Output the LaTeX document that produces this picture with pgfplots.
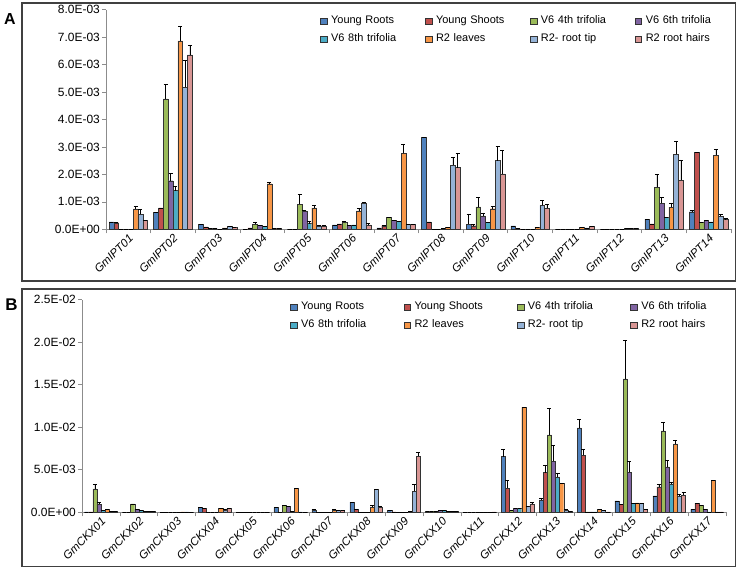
\documentclass[border=0pt]{standalone}
\usepackage{pgfplots}
\pgfplotsset{compat=1.18}
\usepackage{pgfplotstable}
\usepackage{fontspec}
\setmainfont{Liberation Sans}
\definecolor{cYR}{HTML}{4F81BD}
\definecolor{cYS}{HTML}{C0504D}
\definecolor{cVf}{HTML}{9BBB59}
\definecolor{cVs}{HTML}{8064A2}
\definecolor{cVe}{HTML}{4BACC6}
\definecolor{cRL}{HTML}{F79646}
\definecolor{cRT}{HTML}{95B3D7}
\definecolor{cRH}{HTML}{D99694}

% values in units of 1E-03
\pgfplotstableread{
x YR YRe YS YSe V4 V4e V6 V6e V8 V8e RL RLe RT RTe RH RHe
0 0.27 0 0.24 0 0.01 0 0.01 0 0.01 0 0.74 0.10 0.55 0.17 0.33 0
1 0.62 0 0.78 0 4.75 0.54 1.77 0.26 1.41 0.17 6.86 0.52 5.17 0.97 6.35 0.37
2 0.17 0.02 0.09 0 0.04 0 0.02 0 0.01 0 0.05 0 0.11 0 0.07 0
3 0.01 0 0.05 0 0.19 0.08 0.15 0 0.11 0 1.66 0.06 0.03 0 0.03 0
4 0.005 0 0.01 0 0.92 0.36 0.67 0.02 0.21 0.08 0.78 0.08 0.13 0 0.13 0
5 0.16 0 0.20 0 0.25 0.05 0.14 0 0.16 0 0.67 0.08 0.95 0.03 0.16 0.06
6 0.05 0 0.13 0 0.44 0 0.32 0 0.30 0 2.77 0.31 0.19 0 0.19 0
7 3.36 0 0.27 0 0 0 0 0 0.02 0 0.07 0 2.34 0.29 2.25 0.51
8 0.19 0.37 0.13 0.05 0.82 0.33 0.49 0.11 0.25 0 0.75 0.09 2.50 0.53 2.02 0.86
9 0.12 0 0.02 0 0.01 0 0 0 0 0 0.08 0 0.87 0.17 0.77 0.16
10 0.01 0 0 0 0 0 0 0 0 0 0.08 0 0.05 0 0.11 0
11 0 0 0 0 0 0 0 0 0 0 0.04 0 0.03 0 0.04 0
12 0.37 0 0.20 0 1.54 0.47 0.94 0.23 0.43 0 0.81 0.13 2.74 0.48 1.79 0.74
13 0.64 0.06 2.80 0 0.25 0 0.32 0 0.27 0 2.70 0.22 0.48 0.06 0.35 0.04
}\tabA

\pgfplotstableread{
x YR YRe YS YSe V4 V4e V6 V6e V8 V8e RL RLe RT RTe RH RHe
0 0.05 0 0.05 0 2.75 0.55 0.95 0.20 0.27 0 0.35 0 0.10 0 0.10 0
1 0.03 0 0.03 0 0.98 0 0.35 0 0.20 0 0.15 0 0.10 0 0.08 0
2 0.03 0 0.03 0 0.03 0 0.03 0 0.03 0 0.05 0 0.05 0 0.03 0
3 0.55 0 0.47 0 0.02 0 0.02 0 0.02 0 0.43 0 0.30 0 0.50 0
4 0.02 0 0.02 0 0.02 0 0.02 0 0.02 0 0.02 0 0.02 0 0.02 0
5 0.55 0 0.02 0 0.78 0 0.70 0 0.10 0 2.82 0 0.05 0 0.03 0
6 0.30 0 0.02 0 0.02 0 0.02 0 0.02 0 0.30 0 0.20 0 0.20 0
7 1.18 0 0.38 0 0.02 0 0.02 0 0.02 0 0.63 0.15 2.67 0 0.60 0.15
8 0.25 0 0.05 0 0.03 0 0.03 0 0.03 0 0.10 0 2.47 0.83 6.60 0.45
9 0.10 0 0.10 0 0.15 0 0.20 0 0.20 0 0.10 0 0.10 0 0.15 0
10 0.02 0 0.02 0 0.02 0 0.02 0 0.02 0 0.02 0 0.02 0 0.05 0
11 6.55 0.85 2.84 0.95 0.25 0 0.47 0 0.47 0 12.35 0 0.67 0 0.98 0.20
12 1.45 0.20 4.67 0.90 9.10 3.10 6.00 1.90 4.16 0.47 3.41 0 0.30 0 0.10 0
13 9.92 1.00 6.70 0.70 0.05 0 0.05 0 0.05 0 0.35 0 0.20 0 0.05 0
14 1.33 0 0.94 0 15.70 4.50 4.70 1.26 1.06 0 1.10 0 1.06 0 0.35 0
15 1.92 0 2.98 0.27 9.57 1.03 5.33 0.77 3.33 0.24 8.04 0.46 1.92 0.20 2.04 0.36
16 0.35 0 1.06 0 0.78 0 0.35 0 0.05 0 3.73 0 0.05 0 0.05 0
}\tabB

\newcommand{\series}[4]{\addplot[fill=#3, draw=black!80, line width=0.4bp, bar shift=#4] table[x=x, y=#2, y error=#2e] {#1};}
\newcommand{\allseries}[1]{%
\series{#1}{YR}{cYR}{-0.378}
\series{#1}{YS}{cYS}{-0.270}
\series{#1}{V4}{cVf}{-0.162}
\series{#1}{V6}{cVs}{-0.054}
\series{#1}{V8}{cVe}{0.054}
\series{#1}{RL}{cRL}{0.162}
\series{#1}{RT}{cRT}{0.270}
\series{#1}{RH}{cRH}{0.378}
\legend{Young Roots, Young Shoots, V6 4th trifolia, V6 6th trifolia, V6 8th trifolia, R2 leaves, R2- root tip, R2 root hairs}}

\pgfplotsset{
  panel/.style={
    scale only axis,
    ybar, bar width=0.108,
    ymin=0,
    enlargelimits=false,
    clip=false,
    axis x line*=bottom,
    axis y line*=left,
    axis line style={draw=black!45, line width=0.8bp},
    tick align=outside,
    major tick style={draw=black!45, line width=0.6bp},
    minor tick style={draw=black!45, line width=0.6bp},
    major x tick style={draw=none},
    major tick length=4bp,
    minor tick length=4bp,
    yticklabel style={font=\fontsize{12}{13}\selectfont, inner sep=2bp},
    xticklabel style={font=\itshape\fontsize{11.5}{12}\selectfont, rotate=45, anchor=east, inner sep=1bp, yshift=-4bp, xshift=1bp},
    error bars/y dir=plus,
    error bars/y explicit,
    error bars/error bar style={black, line width=0.5bp},
    error bars/error mark options={black, line width=0.5bp, mark size=2bp, rotate=90},
    legend columns=4,
    legend cell align=left,
    legend image code/.code={\draw[##1, draw=black!80, line width=0.4bp] (0bp,-3.2bp) rectangle (6.5bp,3.2bp);},
  }
}

\begin{document}
\begin{tikzpicture}[x=1bp,y=1bp]
\useasboundingbox (0,0) rectangle (738,571);
\draw[line width=1.2bp, black!75] (22,290) rectangle (735.5,568);
\draw[line width=1.2bp, black!75] (22,4.3) rectangle (735.5,282);
\node[font=\bfseries\fontsize{16}{16}\selectfont] at (10,551.5) {A};
\node[font=\bfseries\fontsize{17}{17}\selectfont] at (11.5,266.5) {B};

\begin{axis}[panel,
  at={(106bp,341.7bp)}, anchor=south west,
  width=625bp, height=219.6bp,
  xmin=-0.5, xmax=13.5, ymax=8,
  ytick={0,1,2,3,4,5,6,7,8},
  yticklabels={0.0E+00,1.0E-03,2.0E-03,3.0E-03,4.0E-03,5.0E-03,6.0E-03,7.0E-03,8.0E-03},
  xtick={0,...,13},
  xticklabels={GmIPT01,GmIPT02,GmIPT03,GmIPT04,GmIPT05,GmIPT06,GmIPT07,GmIPT08,GmIPT09,GmIPT10,GmIPT11,GmIPT12,GmIPT13,GmIPT14},
  minor xtick={-0.5,0.5,...,13.5},
  legend style={draw=none, fill=none, inner sep=0pt, at={(0.3424,0.9895)}, anchor=north west,
    column sep=0pt, row sep=0pt,
    nodes={font=\fontsize{11}{13}\selectfont, text height=8bp, text depth=2.5bp, inner ysep=3.75bp, inner xsep=4bp, text width=90bp, align=left}},
]
\allseries{\tabA}
\end{axis}

\begin{axis}[panel,
  at={(82bp,58.7bp)}, anchor=south west,
  width=644bp, height=212.6bp,
  xmin=-0.5, xmax=16.5, ymax=25,
  ytick={0,5,10,15,20,25},
  yticklabels={0.0E+00,5.0E-03,1.0E-02,1.5E-02,2.0E-02,2.5E-02},
  xtick={0,...,16},
  xticklabels={GmCKX01,GmCKX02,GmCKX03,GmCKX04,GmCKX05,GmCKX06,GmCKX07,GmCKX08,GmCKX09,GmCKX10,GmCKX11,GmCKX12,GmCKX13,GmCKX14,GmCKX15,GmCKX16,GmCKX17},
  minor xtick={-0.5,0.5,...,16.5},
  legend style={draw=none, fill=none, inner sep=0pt, at={(0.323,1.008)}, anchor=north west,
    column sep=0pt, row sep=0pt,
    nodes={font=\fontsize{11}{13}\selectfont, text height=8bp, text depth=2.5bp, inner ysep=3.75bp, inner xsep=4bp, text width=98.5bp, align=left}},
]
\allseries{\tabB}
\end{axis}
\end{tikzpicture}
\end{document}
